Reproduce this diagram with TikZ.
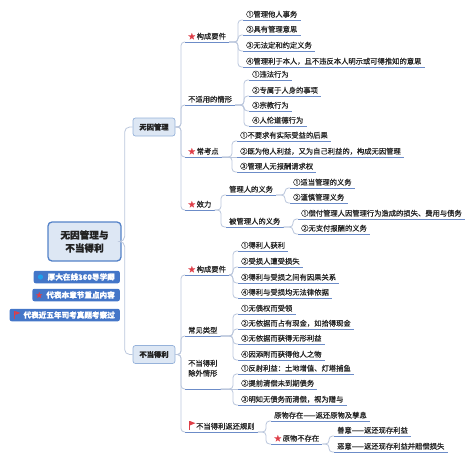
\documentclass[tikz,border=0pt]{standalone}
\usepackage{fontspec}
\newfontfamily\cjk[FakeBold=0.6]{Noto Sans CJK SC}
\usetikzlibrary{calc}
\definecolor{lnc}{RGB}{186,198,220}
\definecolor{ulc}{RGB}{108,140,200}
\definecolor{bxf}{RGB}{221,231,244}
\definecolor{bxd}{RGB}{150,178,218}
\definecolor{rtd}{RGB}{84,130,200}
\definecolor{tgf}{RGB}{68,118,200}
\definecolor{stc}{RGB}{222,62,72}
\definecolor{dtc}{RGB}{30,160,235}
\definecolor{txc}{RGB}{35,35,35}
\tikzset{
  lnk/.style={draw=lnc,line width=.8pt,rounded corners=3.5pt},
  uln/.style={draw=ulc,line width=.9pt},
  txt/.style={font=\cjk\fontsize{7.3}{10}\selectfont,text=txc,anchor=south west,
    inner xsep=3pt,inner ysep=1.6pt,text height=6.2pt,text depth=1.2pt},
  % a topic is text sitting on its own line, the branch runs into that line
  itm/.style={txt,append after command={(\tikzlastnode.south west) edge[uln] (\tikzlastnode.south east)}},
  bx/.style={rounded corners=2.5pt,draw=bxd,fill=bxf,line width=.7pt,text=txc,
    font=\cjk\fontsize{7.3}{9}\selectfont\bfseries,minimum width=42pt,minimum height=18pt},
  rt/.style={rounded corners=4pt,draw=rtd,fill=bxf,line width=1.3pt,text=txc,align=center,
    font=\cjk\fontsize{9.6}{13}\selectfont\bfseries,minimum width=73pt,minimum height=39pt},
  tag/.style={rounded corners=2pt,fill=tgf,text=white,anchor=east,
    font=\cjk\fontsize{7.6}{9}\selectfont\bfseries,inner xsep=5pt,inner ysep=0pt,minimum height=12.5pt},
  flg/.style={fill=stc},
}
\newcommand{\stm}{\textcolor{stc}{★}\,}

\begin{document}
\begin{tikzpicture}[x=1pt,y=-1pt]
\useasboundingbox (0,0) rectangle (474,459);
% ---------- root and legend ----------
\node[rt] (root) at (84.5,241.5) {无因管理与\\不当得利};
\node[tag] (tg1) at (120,277) {\hspace*{9pt}厚大在线360导学卿};
\node[tag] (tg2) at (120,295) {\hspace*{9pt}代表本章节重点内容};
\node[tag] (tg3) at (120,315) {\hspace*{9pt}代表近五年司考真题考察过};
\fill[dtc] ($(tg1.west)+(7,0)$) circle (2.6pt);
\node[text=stc,font=\cjk\fontsize{6.5}{6.5}\selectfont,inner sep=0pt] (sr) at ($(tg2.west)+(7,0)$) {★};
\fill[flg] ($(tg3.west)+(5,3.5)$) rectangle ++(0.9,-7.5);
\fill[flg] ($(tg3.west)+(5.9,-4)$) -- ++(5,2) -- ++(-5,2) -- cycle;
% ---------- level 1 ----------
\node[bx] (wy) at (154,127) {无因管理};
\node[bx] (bd) at (154,354.5) {不当得利};
\foreach \c in {wy,bd}
  \draw[lnk,rounded corners=5pt] (root.east) -| ([xshift=-8pt]\c.west) -- (\c.west);
% ---------- 无因管理 ----------
\node[itm] (gy1) at (185,42) {\stm 构成要件};
\node[itm] (bs) at (185,105) {不适用的情形};
\node[itm] (ck) at (185,157) {\stm 常考点};
\node[itm] (xl) at (185,210) {\stm 效力};
\foreach \c in {gy1,bs,ck,xl}
  \draw[lnk] (wy.east) -| ([xshift=-4pt]\c.south west) -- (\c.south west);

\node[itm] (a1) at (243,20) {①管理他人事务};
\node[itm] (a2) at (243,35) {②具有管理意思};
\node[itm] (a3) at (243,51) {③无法定和约定义务};
\node[itm] (a4) at (243,67) {④管理利于本人，且不违反本人明示或可得推知的意思};
\foreach \c in {a1,a2,a3,a4}
  \draw[lnk] (gy1.south east) -| ([xshift=-5pt]\c.south west) -- (\c.south west);

\node[itm] (b1) at (249,80) {①违法行为};
\node[itm] (b2) at (249,96) {②专属于人身的事项};
\node[itm] (b3) at (249,111) {③宗教行为};
\node[itm] (b4) at (249,126) {④人伦道德行为};
\foreach \c in {b1,b2,b3,b4}
  \draw[lnk] (bs.south east) -| ([xshift=-5pt]\c.south west) -- (\c.south west);

\node[itm] (c1) at (237,141) {①不要求有实际受益的后果};
\node[itm] (c2) at (237,157) {②既为他人利益，又为自己利益的，构成无因管理};
\node[itm] (c3) at (237,172) {③管理人无报酬请求权};
\foreach \c in {c1,c3}
  \draw[lnk] (ck.south east) -| ([xshift=-5pt]\c.south west) -- (\c.south west);
\draw[lnk] (ck.south east) -- (c2.south west);

\node[itm] (m1) at (226,195) {管理人的义务};
\node[itm] (m2) at (226,227) {被管理人的义务};
\foreach \c in {m1,m2}
  \draw[lnk] (xl.south east) -| ([xshift=-5pt]\c.south west) -- (\c.south west);
\node[itm] (m11) at (290,188) {①适当管理的义务};
\node[itm] (m12) at (290,203) {②谨慎管理义务};
\foreach \c in {m11,m12}
  \draw[lnk] (m1.south east) -| ([xshift=-5pt]\c.south west) -- (\c.south west);
\node[itm] (m21) at (298,219) {①偿付管理人因管理行为造成的损失、费用与债务};
\node[itm] (m22) at (298,234) {②无支付报酬的义务};
\foreach \c in {m21,m22}
  \draw[lnk] (m2.south east) -| ([xshift=-5pt]\c.south west) -- (\c.south west);
% ---------- 不当得利 ----------
\node[itm] (gy2) at (185,275) {\stm 构成要件};
\node[itm] (cj) at (185,336) {常见类型};
\node[itm,align=left,text depth=11.2pt] (cw) at (185,389) {不当得利\\除外情形};
\node[itm] (fh) at (185,432) {\hspace*{8pt}不当得利返还规则};
\fill[flg] ($(fh.south west)+(4,-2)$) rectangle ++(0.9,-9);
\fill[flg] ($(fh.south west)+(4.9,-11)$) -- ++(5.5,2.2) -- ++(-5.5,2.2) -- cycle;
\foreach \c in {gy2,cj,cw,fh}
  \draw[lnk] (bd.east) -| ([xshift=-4pt]\c.south west) -- (\c.south west);

\node[itm] (d1) at (238,251) {①得利人获利};
\node[itm] (d2) at (238,267) {②受损人遭受损失};
\node[itm] (d3) at (238,283) {③得利与受损之间有因果关系};
\node[itm] (d4) at (238,298) {④得利与受损均无法律依据};
\foreach \c in {d1,d2,d3,d4}
  \draw[lnk] (gy2.south east) -| ([xshift=-5pt]\c.south west) -- (\c.south west);

\node[itm] (e1) at (238,314) {①无债权而受领};
\node[itm] (e2) at (238,329) {②无依据而占有现金，如拾得现金};
\node[itm] (e3) at (238,344) {③无依据而获得无形利益};
\node[itm] (e4) at (238,360) {④因添附而获得他人之物};
\foreach \c in {e1,e2,e3,e4}
  \draw[lnk] (cj.south east) -| ([xshift=-5pt]\c.south west) -- (\c.south west);

\node[itm] (h1) at (238,374) {①反射利益：土地增值、灯塔捕鱼};
\node[itm] (h2) at (238,389) {②提前清偿未到期债务};
\node[itm] (h3) at (238,405) {③明知无债务而清偿，视为赠与};
\foreach \c in {h1,h3}
  \draw[lnk] (cw.south east) -| ([xshift=-5pt]\c.south west) -- (\c.south west);
\draw[lnk] (cw.south east) -- (h2.south west);

\node[itm] (f1) at (271,421) {原物存在——返还原物及孳息};
\node[itm] (f2) at (271,444) {\stm 原物不存在};
\foreach \c in {f1,f2}
  \draw[lnk] (fh.south east) -| ([xshift=-5pt]\c.south west) -- (\c.south west);
\node[itm] (g1) at (334,436) {善意——返还现存利益};
\node[itm] (g2) at (334,452) {恶意——返还现存利益并赔偿损失};
\foreach \c in {g1,g2}
  \draw[lnk] (f2.south east) -| ([xshift=-5pt]\c.south west) -- (\c.south west);
\end{tikzpicture}
\end{document}
